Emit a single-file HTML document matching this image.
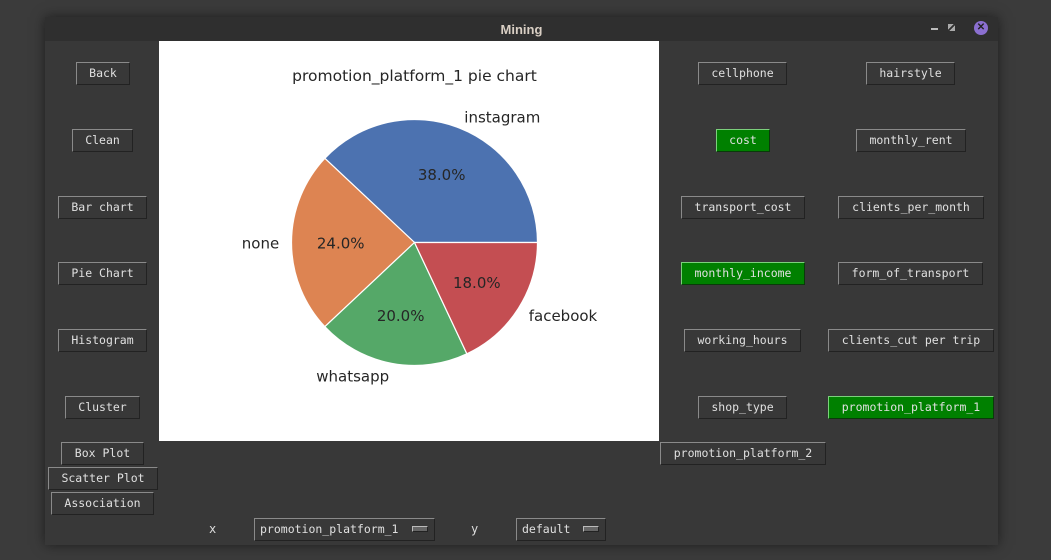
<!DOCTYPE html>
<html><head><meta charset="utf-8">
<style>
body{margin:0;width:1051px;height:560px;background:#3b3b3b;position:relative;overflow:hidden;font-family:"DejaVu Sans Mono","Liberation Mono",monospace;}
#win{position:absolute;left:45px;top:17px;width:953px;height:528px;background:#383838;box-shadow:0 0 12px rgba(0,0,0,.5);}
#title{position:absolute;left:0;top:0;width:953px;height:24px;background:#2f2f2f;color:#d9cfc4;font:bold 13px "Liberation Sans",sans-serif;text-align:center;line-height:25px;}
.btn{position:absolute;height:23px;box-sizing:border-box;border:1px solid;border-color:#8a8a8a #222 #222 #8a8a8a;background:#383838;color:#e0e0e0;font-size:11.5px;line-height:21px;text-align:center;white-space:nowrap;}
.g{background:#008000;border-color:#7ccf7c #0a3a0a #0a3a0a #7ccf7c;}
.dd{text-align:left;padding-left:5px;}
.dd::after{content:"";position:absolute;right:6px;top:7px;width:14px;height:4px;background:#666;border:1px solid;border-color:#bbb #222 #222 #bbb;}
.lbl{position:absolute;color:#ddd;font-size:12px;}
#plot{position:absolute;left:159px;top:41px;width:500px;height:400px;background:#fff;}
</style></head><body>
<div id="win">
<div id="title">Mining</div>
<div style="position:absolute;right:60px;top:11px;width:7px;height:2px;background:#bbb"></div>
<div style="position:absolute;right:43px;top:7px;width:7px;height:7px;background:linear-gradient(135deg,#aaa 40%,transparent 40%,transparent 60%,#aaa 60%)"></div>
<div style="position:absolute;right:10px;top:4px;width:14px;height:14px;border-radius:50%;background:#8b6fd0;color:#222;font:bold 10px sans-serif;text-align:center;line-height:14px">✕</div>
</div>
<div class="btn" style="left:76px;top:62px;width:54px">Back</div>
<div class="btn" style="left:72px;top:129px;width:61px">Clean</div>
<div class="btn" style="left:58px;top:196px;width:89px">Bar chart</div>
<div class="btn" style="left:58px;top:262px;width:89px">Pie Chart</div>
<div class="btn" style="left:58px;top:329px;width:89px">Histogram</div>
<div class="btn" style="left:65px;top:396px;width:75px">Cluster</div>
<div class="btn" style="left:61px;top:442px;width:83px">Box Plot</div>
<div class="btn" style="left:48px;top:467px;width:110px">Scatter Plot</div>
<div class="btn" style="left:51px;top:492px;width:103px">Association</div>
<div class="btn" style="left:698px;top:62px;width:89px">cellphone</div>
<div class="btn" style="left:866px;top:62px;width:89px">hairstyle</div>
<div class="btn g" style="left:716px;top:129px;width:54px">cost</div>
<div class="btn" style="left:856px;top:129px;width:110px">monthly_rent</div>
<div class="btn" style="left:681px;top:196px;width:124px">transport_cost</div>
<div class="btn" style="left:838px;top:196px;width:146px">clients_per_month</div>
<div class="btn g" style="left:681px;top:262px;width:124px">monthly_income</div>
<div class="btn" style="left:838px;top:262px;width:145px">form_of_transport</div>
<div class="btn" style="left:684px;top:329px;width:117px">working_hours</div>
<div class="btn" style="left:828px;top:329px;width:166px">clients_cut per trip</div>
<div class="btn" style="left:698px;top:396px;width:89px">shop_type</div>
<div class="btn g" style="left:828px;top:396px;width:166px">promotion_platform_1</div>
<div class="btn" style="left:660px;top:442px;width:166px">promotion_platform_2</div>
<div class="lbl" style="left:209px;top:522px">x</div>
<div class="btn dd" style="left:254px;top:518px;width:181px">promotion_platform_1</div>
<div class="lbl" style="left:471px;top:522px">y</div>
<div class="btn dd" style="left:516px;top:518px;width:90px">default</div>
<div id="plot">
<svg id="pie" width="500" height="400"></svg>
</div>
<script>
const categories=["instagram","none","whatsapp","facebook"];
const values=[38,24,20,18];
const colors=["#4c72b0","#dd8452","#55a868","#c44e52"];
const svg=document.getElementById('pie');
const NS="http://www.w3.org/2000/svg";
const cx=255.5,cy=201.5,r=123;
const total=values.reduce((a,b)=>a+b,0);
function mk(t,attrs){const e=document.createElementNS(NS,t);for(const k in attrs)e.setAttribute(k,attrs[k]);return e;}
const title=mk('text',{x:cx,y:40,'text-anchor':'middle','font-family':'DejaVu Sans, sans-serif','font-size':'15.5','fill':'#262626'});
title.textContent="promotion_platform_1 pie chart";


svg.appendChild(title);
let a0=0;
values.forEach((v,i)=>{
  const a1=a0+v/total*2*Math.PI;
  const x0=cx+r*Math.cos(a0),y0=cy-r*Math.sin(a0),x1=cx+r*Math.cos(a1),y1=cy-r*Math.sin(a1);
  const large=(a1-a0)>Math.PI?1:0;
  const p=mk('path',{d:`M${cx},${cy}L${x0},${y0}A${r},${r} 0 ${large} 0 ${x1},${y1}Z`,fill:colors[i],stroke:'#fff','stroke-width':1.2});
  
  
  svg.appendChild(p);
  const am=(a0+a1)/2,c=Math.cos(am),s=Math.sin(am);
  const lt=mk('text',{x:cx+1.1*r*c,y:cy-1.1*r*s+6,'text-anchor':c>0.01?'start':(c<-0.01?'end':'middle'),'font-family':'DejaVu Sans, sans-serif','font-size':'15','fill':'#262626'});
  lt.textContent=categories[i];
  
  
  svg.appendChild(lt);
  const pt=mk('text',{x:cx+0.6*r*c,y:cy-0.6*r*s+6,'text-anchor':'middle','font-family':'DejaVu Sans, sans-serif','font-size':'15','fill':'#262626'});
  pt.textContent=(v/total*100).toFixed(1)+"%";
  
  
  svg.appendChild(pt);
  a0=a1;
});
</script>
</body></html>
